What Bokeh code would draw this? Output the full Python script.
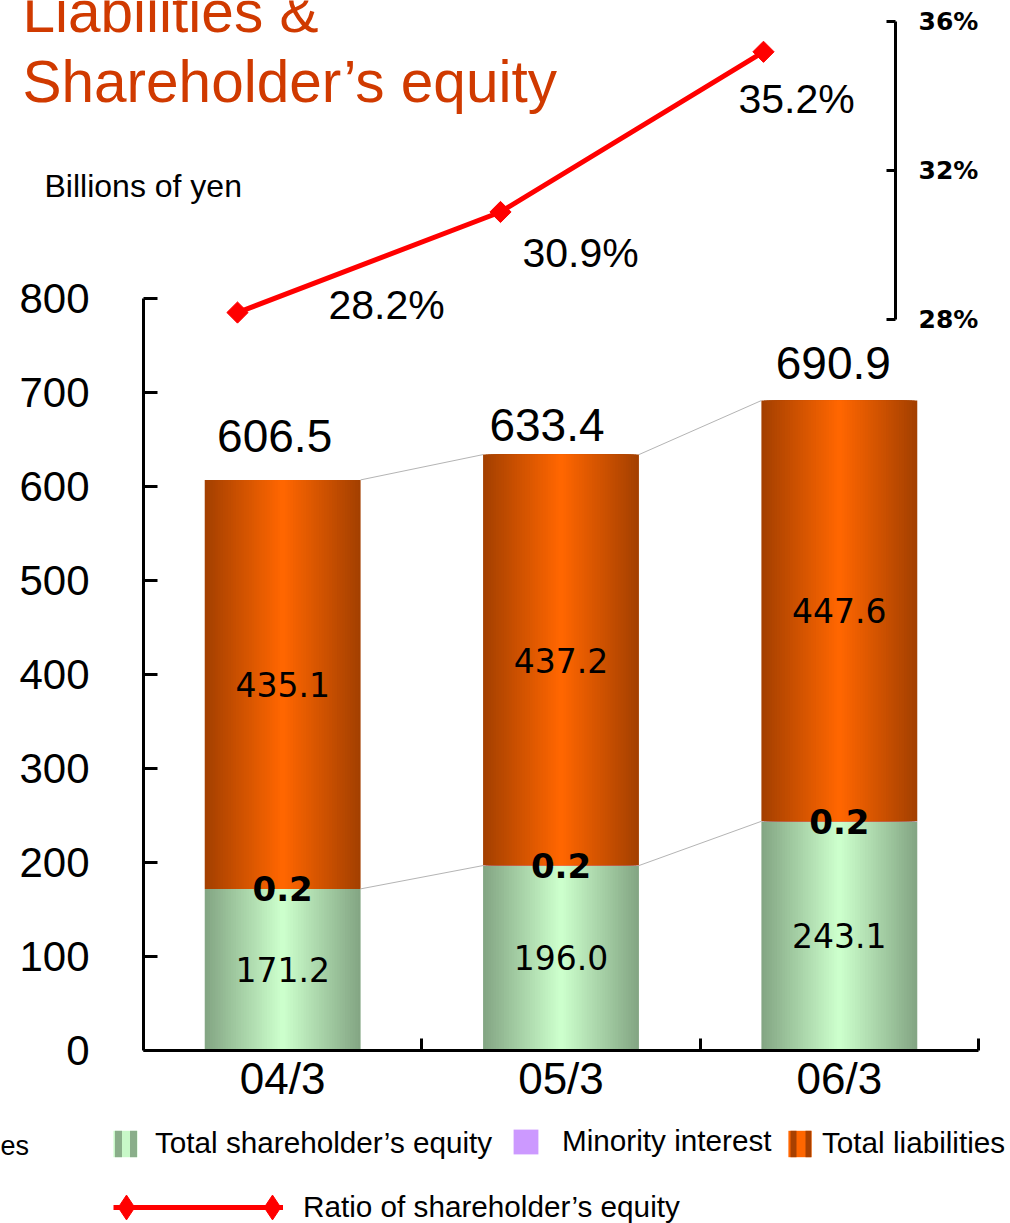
import math
from bokeh.plotting import figure
from bokeh.models import (Range1d, LinearAxis, FixedTicker, ColumnDataSource, Label,
                          Legend, LegendItem, PrintfTickFormatter)
from bokeh.core.properties import value
from bokeh.embed import file_html
from bokeh.resources import INLINE

# ---------------- data ----------------
categories = ["04/3", "05/3", "06/3"]
equity = [171.2, 196.0, 243.1]
minority = [0.2, 0.2, 0.2]
liabilities = [435.1, 437.2, 447.6]
ratio = [28.2, 30.9, 35.2]
y_ticks = [0, 100, 200, 300, 400, 500, 600, 700, 800]
ratio_ticks = [28, 32, 36]

# derived
xs = [i + 0.5 for i in range(len(categories))]
eq_top = [e + m for e, m in zip(equity, minority)]
totals = [round(e + m + l, 1) for e, m, l in zip(equity, minority, liabilities)]

# ---------------- styling ----------------
SANS = "Liberation Sans"
VERD = "DejaVu Sans"
BAR_W = 0.56
ORANGE_EDGE = (164, 64, 0)
ORANGE_MID = (255, 102, 0)
GREEN_EDGE = (132, 166, 132)
GREEN_MID = (204, 255, 204)
BASE_FIX = 0.38  # alphabetic-baseline correction (em)

p = figure(width=1010, height=1223, output_backend="svg", toolbar_location=None, tools="",
           x_range=Range1d(-0.51377, 3.11497), y_range=Range1d(-184.57, 1116.49),
           x_axis_location=None, y_axis_location=None, min_border=0)
p.extra_x_ranges = {"line": Range1d(-0.4011, 3.4392)}
p.extra_y_ranges = {"ratio": Range1d(3.745, 36.577)}
p.grid.visible = False
p.outline_line_color = None
p.background_fill_color = "white"
p.border_fill_color = "white"


def lerp(c0, c1, t):
    return "#%02x%02x%02x" % tuple(int(round(a + (b - a) * t)) for a, b in zip(c0, c1))


# gradient bars built as nested bars of decreasing width
N = 30
g = dict(x=[], bottom=[], top=[], width=[], color=[])
o = dict(x=[], bottom=[], top=[], width=[], color=[])
for k in range(N):
    t = k / (N - 1)
    w = BAR_W * (1 - k / N)
    for i in range(len(categories)):
        g["x"].append(xs[i]); g["bottom"].append(0); g["top"].append(equity[i])
        g["width"].append(w); g["color"].append(lerp(GREEN_EDGE, GREEN_MID, t))
        o["x"].append(xs[i]); o["bottom"].append(eq_top[i]); o["top"].append(totals[i])
        o["width"].append(w); o["color"].append(lerp(ORANGE_EDGE, ORANGE_MID, t))

p.vbar(x="x", bottom="bottom", top="top", width="width", fill_color="color",
       line_color=None, source=ColumnDataSource(g))
p.vbar(x="x", bottom="bottom", top="top", width="width", fill_color="color",
       line_color=None, source=ColumnDataSource(o))
p.vbar(x=xs, bottom=equity, top=eq_top, width=BAR_W, fill_color="#CC99FF", line_color=None)

# connector lines between bars
n = len(categories)
p.segment(x0=[xs[i] + BAR_W / 2 for i in range(n - 1)], y0=eq_top[:-1],
          x1=[xs[i + 1] - BAR_W / 2 for i in range(n - 1)], y1=eq_top[1:],
          line_color="#B4B4B4", line_width=1)
p.segment(x0=[xs[i] + BAR_W / 2 for i in range(n - 1)], y0=totals[:-1],
          x1=[xs[i + 1] - BAR_W / 2 for i in range(n - 1)], y1=totals[1:],
          line_color="#B4B4B4", line_width=1)

# value labels
p.text(x=xs, y=[e / 2 for e in equity], text=[f"{v:.1f}" for v in equity],
       text_font=value(VERD), text_font_size="33px", text_color="black",
       text_align="center", text_baseline="middle")
p.text(x=xs, y=[a + l / 2 for a, l in zip(eq_top, liabilities)],
       text=[f"{v:.1f}" for v in liabilities],
       text_font=value(VERD), text_font_size="33px", text_color="black",
       text_align="center", text_baseline="middle")
p.text(x=xs, y=eq_top, text=[f"{v:.1f}" for v in minority],
       text_font=value(VERD), text_font_size="34px", text_font_style="bold",
       text_color="black", text_align="center", text_baseline="middle")
TOT_FS = 46
p.text(x=xs, y=totals, text=[f"{v:.1f}" for v in totals],
       x_offset=[-8, -14, -6],
       y_offset=[d - BASE_FIX * TOT_FS for d in (-26, -12, -20)],
       text_font=value(SANS), text_font_size=f"{TOT_FS}px", text_color="black",
       text_align="center", text_baseline="alphabetic")

# ratio line
line_r = p.line(x=xs, y=ratio, x_range_name="line", y_range_name="ratio",
                line_color="#FF0000", line_width=5)
dots_r = p.scatter(x=xs, y=ratio, x_range_name="line", y_range_name="ratio",
                   marker="square", size=15, angle=math.pi / 4,
                   fill_color="#FF0000", line_color="#FF0000")
RAT_FS = 41
p.text(x=xs, y=ratio, x_range_name="line", y_range_name="ratio",
       text=[f"{r:.1f}%" for r in ratio], x_offset=[91, 22, -25],
       y_offset=[d - BASE_FIX * RAT_FS for d in (8, 57, 63)],
       text_font=value(SANS), text_font_size=f"{RAT_FS}px", text_color="black",
       text_align="left", text_baseline="alphabetic")

# axes
yaxis = LinearAxis(ticker=FixedTicker(ticks=y_ticks), bounds=(0, 800), fixed_location=0)
yaxis.axis_line_width = 3
yaxis.major_tick_line_width = 3
yaxis.major_tick_in = 14
yaxis.major_tick_out = 0
yaxis.minor_tick_line_color = None
yaxis.major_label_standoff = 54
yaxis.major_label_text_font = SANS
yaxis.major_label_text_font_size = "42px"
yaxis.major_label_text_color = "black"
p.add_layout(yaxis, "left")

xaxis = LinearAxis(ticker=FixedTicker(ticks=xs, minor_ticks=[1, 2, 3]), bounds=(0, 3),
                   fixed_location=0,
                   major_label_overrides={x: c for x, c in zip(xs, categories)})
xaxis.axis_line_width = 3
xaxis.major_tick_line_color = None
xaxis.minor_tick_in = 12
xaxis.minor_tick_out = 0
xaxis.minor_tick_line_width = 3
xaxis.major_label_standoff = -2
xaxis.major_label_text_font = SANS
xaxis.major_label_text_font_size = "44px"
xaxis.major_label_text_color = "black"
p.add_layout(xaxis, "below")

raxis = LinearAxis(y_range_name="ratio", ticker=FixedTicker(ticks=ratio_ticks), bounds=(28, 36),
                   fixed_location=2.7018, formatter=PrintfTickFormatter(format="%d%%"))
raxis.axis_line_width = 3
raxis.major_tick_line_width = 3
raxis.major_tick_in = 9
raxis.major_tick_out = 0
raxis.minor_tick_line_color = None
raxis.major_label_standoff = 23
raxis.major_label_text_font = VERD
raxis.major_label_text_font_style = "bold"
raxis.major_label_text_font_size = "25px"
raxis.major_label_text_color = "black"
p.add_layout(raxis, "right")


# titles / notes  (y given as baseline distance from the top of the page)
def top_label(text, x, baseline_from_top, size, color="black", align="left"):
    p.add_layout(Label(x=x, y=1223 - (baseline_from_top - BASE_FIX * size),
                       x_units="screen", y_units="screen", text=text,
                       text_font=SANS, text_font_size=f"{size}px", text_color=color,
                       text_align=align, text_baseline="alphabetic"))


top_label("Liabilities &", 22, 33, 58.5, "#D03A00")
top_label("Shareholder\u2019s equity", 22, 103, 58.5, "#D03A00")
top_label("Billions of yen", 44, 198, 32)
p.add_layout(Label(x=0, y=1223 - 1145, x_units="screen", y_units="screen", text="es",
                   text_font=SANS, text_font_size="27px", text_color="black",
                   text_align="left", text_baseline="middle"))

# legend proxies (zero-size glyphs, only used for their legend swatches)
eq_proxy = p.vbar(x=[xs[0]], bottom=[0], top=[0], width=0, fill_color="#C8F8C8", line_color=None,
                  hatch_pattern="|", hatch_color="#8AAE8A", hatch_weight=7, hatch_scale=15)
mi_proxy = p.vbar(x=[xs[0]], bottom=[0], top=[0], width=0, fill_color="#CC99FF", line_color=None)
li_proxy = p.vbar(x=[xs[0]], bottom=[0], top=[0], width=0, fill_color="#FF6600", line_color=None,
                  hatch_pattern="|", hatch_color="#A84000", hatch_weight=6, hatch_scale=15)
dm_proxy = p.scatter(x=[xs[0]], y=[ratio[0]], x_range_name="line", y_range_name="ratio",
                     size=0, marker="diamond", fill_color="#FF0000", line_color="#FF0000")


def add_legend(label, renderers, loc, gw, gh, standoff):
    leg = Legend(items=[LegendItem(label=label, renderers=renderers)], location=loc,
                 orientation="horizontal", glyph_width=gw, glyph_height=gh,
                 label_standoff=standoff, padding=0, margin=0, spacing=0,
                 border_line_color=None, background_fill_alpha=0,
                 label_text_font=SANS, label_text_font_size="29.7px",
                 label_text_color="black", label_height=gh)
    p.add_layout(leg, "center")


add_legend("Total shareholder\u2019s equity", [eq_proxy], (110, 63), 30, 33, 15)
add_legend("Minority interest", [mi_proxy], (510, 65), 31, 31, 21)
add_legend("Total liabilities", [li_proxy], (785, 63), 29, 33, 8)
add_legend("Ratio of shareholder\u2019s equity", [line_r], (113, -1), 170, 32, 20)
add_legend("", [dm_proxy], (95, -15), 62, 62, 0)
add_legend("", [dm_proxy], (241, -15), 62, 62, 0)

open("out.html", "w").write(file_html(p, INLINE))
